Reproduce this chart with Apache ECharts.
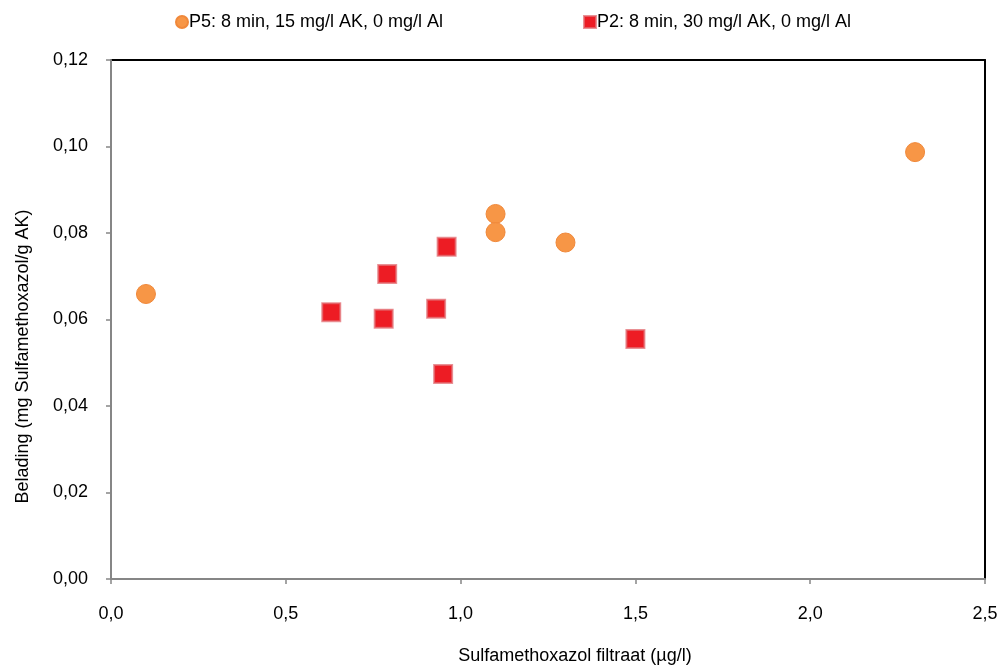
<!DOCTYPE html>
<html>
<head>
<meta charset="utf-8">
<script src="https://cdn.jsdelivr.net/npm/echarts@6/dist/echarts.min.js"></script>
<style>html,body{margin:0;padding:0;background:#fff}#c{width:1001px;height:666px}</style>
</head>
<body>
<div id="c"></div>
<script>
var seriesNames = ['P5: 8 min, 15 mg/l AK, 0 mg/l Al', 'P2: 8 min, 30 mg/l AK, 0 mg/l Al'];
var p5X = [0.10, 1.10, 1.10, 1.30, 2.30];
var p5Y = [0.0659, 0.0844, 0.0802, 0.0778, 0.0987];
var p2X = [0.63, 0.78, 0.79, 0.93, 0.95, 0.96, 1.50];
var p2Y = [0.0617, 0.0602, 0.0705, 0.0625, 0.0474, 0.0768, 0.0555];
var xTicks = [0.0, 0.5, 1.0, 1.5, 2.0, 2.5];
var yTicks = [0.00, 0.02, 0.04, 0.06, 0.08, 0.10, 0.12];
var xTitle = 'Sulfamethoxazol filtraat (µg/l)';
var yTitle = 'Belading (mg Sulfamethoxazol/g AK)';

function pairs(xs, ys){ return xs.map(function(x,i){ return [x, ys[i]]; }); }
var FONT = 'Liberation Sans, Arial, sans-serif';
var FS = 18;
var chart = echarts.init(document.getElementById('c'), null, {renderer:'canvas'});
chart.setOption({
  animation: false,
  backgroundColor: '#fff',
  textStyle: {fontFamily: FONT},
  legend: [
    {data: [seriesNames[0]], left: 170, top: 8, itemWidth: 12, itemHeight: 12, itemGap: 0,
     textStyle: {fontSize: FS, color: '#000', fontFamily: FONT, padding: [0,0,0,-4]}},
    {data: [seriesNames[1]], left: 578, top: 8, itemWidth: 12, itemHeight: 12, itemGap: 0,
     textStyle: {fontSize: FS, color: '#000', fontFamily: FONT, padding: [0,0,0,-4]}}
  ],
  grid: {left: 111, right: 16, top: 60, bottom: 87, containLabel: false, outerBoundsMode: 'none'},
  xAxis: [{
    type: 'value', min: 0, max: 2.5, interval: 0.5,
    name: xTitle, nameLocation: 'middle', nameGap: 68,
    nameTextStyle: {fontSize: FS, color: '#000', fontFamily: FONT, padding: [0,0,0,54]},
    axisLine: {show: true, onZero: false, lineStyle: {color: '#868686', width: 2}},
    axisTick: {show: true, length: 5, lineStyle: {color: '#868686', width: 1.5}},
    axisLabel: {fontSize: FS, color: '#000', margin: 26, fontFamily: FONT,
      formatter: function(v){ var i = xTicks.indexOf(Math.round(v*10)/10); return (i>=0 ? xTicks[i] : v).toFixed(1).replace('.', ','); }},
    splitLine: {show: false}, z: 5
  }, {
    type: 'value', position: 'top', min: 0, max: 2.5,
    axisLine: {show: true, onZero: false, lineStyle: {color: '#000', width: 2}},
    axisTick: {show: false}, axisLabel: {show: false}, splitLine: {show: false}
  }],
  yAxis: [{
    type: 'value', min: 0, max: 0.12, interval: 0.02,
    name: yTitle, nameLocation: 'middle', nameGap: 79, nameRotate: 90,
    nameTextStyle: {fontSize: FS, color: '#000', fontFamily: FONT, padding: [0,74,0,0]},
    axisLine: {show: true, onZero: false, lineStyle: {color: '#868686', width: 2}},
    axisTick: {show: true, length: 5, lineStyle: {color: '#868686', width: 1.5}},
    axisLabel: {fontSize: FS, color: '#000', margin: 23, fontFamily: FONT,
      formatter: function(v){ var i = yTicks.indexOf(Math.round(v*100)/100); return (i>=0 ? yTicks[i] : v).toFixed(2).replace('.', ','); }},
    splitLine: {show: false}, z: 5
  }, {
    type: 'value', position: 'right', min: 0, max: 0.12,
    axisLine: {show: true, onZero: false, lineStyle: {color: '#000', width: 2}},
    axisTick: {show: false}, axisLabel: {show: false}, splitLine: {show: false}
  }],
  series: [{
    name: seriesNames[0], type: 'scatter', symbol: 'circle', symbolSize: 19,
    xAxisIndex: 0, yAxisIndex: 0,
    data: pairs(p5X, p5Y),
    itemStyle: {color: '#F79646', borderColor: '#F0883A', borderWidth: 1, opacity: 1}
  }, {
    name: seriesNames[1], type: 'scatter', symbol: 'rect', symbolSize: 18,
    xAxisIndex: 0, yAxisIndex: 0,
    data: pairs(p2X, p2Y),
    itemStyle: {color: '#ED1C24', borderColor: 'rgba(225,110,115,0.75)', borderWidth: 2, opacity: 1}
  }]
});
</script>
</body>
</html>
